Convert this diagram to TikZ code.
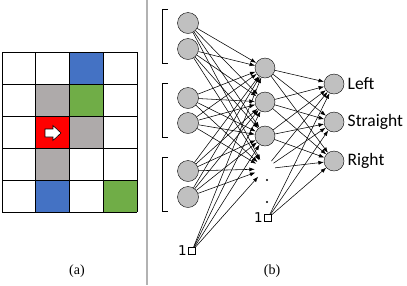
\documentclass[tikz,border=0pt]{standalone}
\usepackage{fontspec}
\setmainfont{Liberation Serif}
\newfontfamily\labelfont{Carlito}
\newfontfamily\onefont{DejaVu Sans}
\usetikzlibrary{arrows.meta}

\definecolor{cellblue}{HTML}{4472C4}
\definecolor{cellgreen}{HTML}{70AD47}
\definecolor{cellgray}{HTML}{AEAAAA}
\definecolor{neurongray}{HTML}{C0C0C0}

\tikzset{
  neuron/.style={circle, draw, fill=neurongray, minimum size=20pt, inner sep=0pt},
  ghost/.style={circle, minimum size=20pt, inner sep=0pt},
  biasbox/.style={draw, fill=white, minimum size=7pt, inner sep=0pt,
    label={[font=\onefont\fontsize{13.5}{14}\selectfont, inner sep=0pt, label distance=1.5pt]left:1}},
  conn/.style={-{Latex[length=5.5pt,width=4pt]}, line width=0.55pt},
  outlabel/.style={font=\labelfont\fontsize{17.5}{18}\selectfont, anchor=west}
}

\begin{document}
\begin{tikzpicture}[x=1pt, y=-1pt]
  \useasboundingbox (0,0) rectangle (407,285);

  % Grid world
  \fill[cellblue]  (69.5,52)  rectangle (103.25,84);
  \fill[cellgray]  (35.75,84) rectangle (69.5,116);
  \fill[cellgreen] (69.5,84)  rectangle (103.25,116);
  \fill[red]       (35.75,116) rectangle (69.5,148);
  \fill[cellgray]  (69.5,116) rectangle (103.25,148);
  \fill[cellgray]  (35.75,148) rectangle (69.5,180);
  \fill[cellblue]  (35.75,180) rectangle (69.5,212);
  \fill[cellgreen] (103.25,180) rectangle (137,212);
  \foreach \i in {0,...,4} {
    \draw[line width=0.8pt] (2+33.75*\i,52) -- (2+33.75*\i,212);
  }
  \foreach \j in {0,...,5} {
    \draw[line width=0.8pt] (2,52+32*\j) -- (137,52+32*\j);
  }
  % Agent
  \draw[fill=white, line width=0.6pt] (45,129) -- (53,129) -- (53,125.5) -- (61,133)
    -- (53,140.5) -- (53,137) -- (45,137) -- cycle;

  % Separator
  \draw[gray!60, line width=1.6pt] (147,0) -- (147,285);

  % Input layer
  \foreach \n/\y in {1/23, 2/49, 3/98, 4/123, 5/171, 6/197} {
    \node[neuron, minimum size=21pt] (in\n) at (188,\y) {};
  }
  \node[biasbox] (b1) at (192,251) {};
  % Brackets
  \foreach \t/\b in {9/63, 83/137, 157/211} {
    \draw[line width=0.7pt] (168,\t) -- (162,\t) -- (162,\b) -- (168,\b);
  }

  % Hidden layer
  \foreach \n/\y in {1/68, 2/102, 3/136} {
    \node[neuron] (h\n) at (265,\y) {};
  }
  \node[ghost] (h4) at (265,169) {};
  \fill (267,180) circle (1.1pt);
  \fill (267,202) circle (1.1pt);
  \node[biasbox] (b2) at (268,218) {};

  % Output layer
  \node[neuron] (o1) at (334,84) {};
  \node[neuron] (o2) at (334,122) {};
  \node[neuron] (o3) at (334,161) {};
  \node[outlabel] (l1) at (o1.east) {Left};
  \node[outlabel] (l2) at (o2.east) {Straight};
  \node[outlabel] (l3) at (o3.east) {Right};

  % Connections
  \foreach \s in {in1,in2,in3,in4,in5,in6,b1} {
    \foreach \t in {h1,h2,h3,h4} {
      \draw[conn] (\s) -- (\t);
    }
  }
  \foreach \s in {h1,h2,h3,h4,b2} {
    \foreach \t in {o1,o2,o3} {
      \draw[conn] (\s) -- (\t);
    }
  }

  % Captions
  \node[font=\fontsize{14}{14}\selectfont] (capa) at (77,271) {(a)};
  \node[font=\fontsize{14}{14}\selectfont] (capb) at (272,271) {(b)};
\end{tikzpicture}
\end{document}
